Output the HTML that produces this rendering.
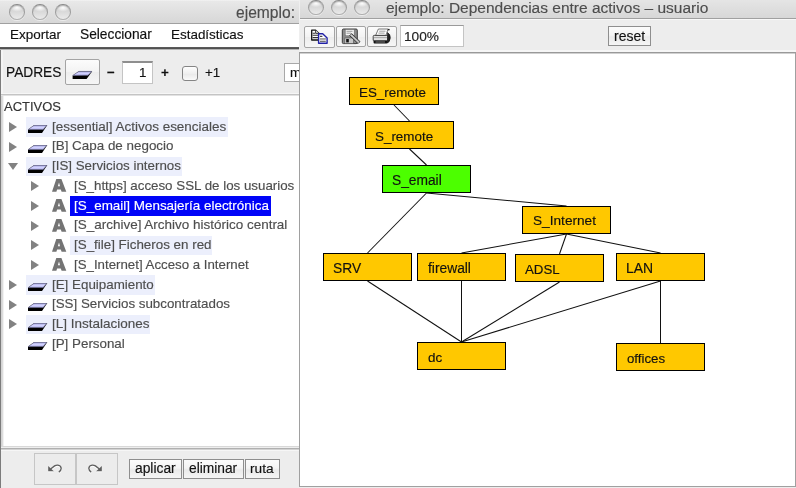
<!DOCTYPE html>
<html><head><meta charset="utf-8"><style>
*{margin:0;padding:0;box-sizing:border-box}
html,body{width:796px;height:488px;overflow:hidden;background:#fff}
body{position:relative;font-family:"Liberation Sans",sans-serif;color:#111}
.a{position:absolute}
.t{position:absolute;white-space:pre;line-height:1;will-change:transform;-webkit-text-stroke:0.15px currentColor}
.circ{position:absolute;width:15.5px;height:15.5px;border-radius:50%;border:1px solid;border-color:#8c8c8c #a0a0a0 #b0b0b0;
 background:radial-gradient(ellipse 45% 28% at 50% 20%,rgba(255,255,255,.95),rgba(255,255,255,0)),linear-gradient(#d4d4d4,#d8d8d8 45%,#eaeaea);
 box-shadow:inset 0 1px 1px rgba(0,0,0,.2),0 1px 0 rgba(255,255,255,.5)}
.btn{position:absolute;border:1px solid #a4a4a4;border-radius:2px;background:linear-gradient(#fcfcfc,#f3f3f3 50%,#ededed 51%,#f6f6f6)}
.pb{position:absolute;border:1px solid #8e8e8e;background:linear-gradient(#fbfbfb,#f4f4f4 45%,#eaeaea 55%,#f5f5f5)}
.tri{position:absolute;width:0;height:0;border-top:5px solid transparent;border-bottom:5px solid transparent;border-left:8.5px solid #828282}
.trid{position:absolute;width:0;height:0;border-left:5px solid transparent;border-right:5px solid transparent;border-top:7.6px solid #828282}
</style></head><body>
<div class="a" style="left:0;top:0;width:299px;height:23px;background:linear-gradient(#f3f3f3 0,#e8e8e8 1.5px,#d7d7d7)"></div>
<div class="a" style="left:0;top:23px;width:299px;height:1px;background:#a0a0a0"></div>
<div class="circ" style="left:9px;top:4px"></div>
<div class="circ" style="left:32px;top:4px"></div>
<div class="circ" style="left:55px;top:4px"></div>
<div class="t" style="left:235.7px;top:4.4px;font-size:15.62px;color:#4d4d4d;margin-top:1px">ejemplo:</div>
<div class="a" style="left:0;top:24px;width:299px;height:23px;background:#fff"></div>
<div class="a" style="left:0;top:47px;width:299px;height:1px;background:#5a5a5a"></div>
<div class="a" style="left:0;top:48px;width:299px;height:1px;background:#505050"></div>
<div class="a" style="left:0;top:49px;width:299px;height:1px;background:#b4b4b4"></div>
<div class="a" style="left:1px;top:50px;width:298px;height:1px;background:#f8f8f8"></div>
<div class="t" style="left:9.6px;top:28.0px;font-size:13.48px;color:#111;">Exportar</div>
<div class="t" style="left:79.7px;top:28.0px;font-size:13.76px;color:#111;">Seleccionar</div>
<div class="t" style="left:170.7px;top:28.0px;font-size:13.44px;color:#111;">Estadísticas</div>
<div class="a" style="left:0;top:50px;width:299px;height:438px;background:#ededed"></div>
<div class="a" style="left:0;top:50px;width:1px;height:438px;background:#7c7c7c"></div>
<div class="a" style="left:1px;top:50px;width:2px;height:43px;background:#f4f4f4"></div>
<div class="t" style="left:6.0px;top:65.7px;font-size:13.72px;color:#111;">PADRES</div>
<div class="btn" style="left:65px;top:59px;width:35px;height:26px"></div>
<svg class="a" style="left:72px;top:70px" width="22" height="10" viewBox="0 0 22 10">
 <polygon points="6.8,1.2 20.2,1.2 14.6,9 0.6,9 0.6,5.4" fill="#000"/>
 <polygon points="6.8,1.4 19.7,1.4 16,5.3 0.8,5.4" fill="url(#lav)" stroke="#7c7ca0" stroke-width="0.5"/></svg>
<div class="t" style="left:107.2px;top:65.5px;font-size:13.4px;color:#111;font-weight:bold">−</div>
<div class="a" style="left:122px;top:61px;width:31px;height:23px;background:#fff;border:1px solid #c4c4c4;border-top:2px solid #8e8e8e"></div>
<div class="t" style="left:139.0px;top:65.5px;font-size:13.4px;color:#111;">1</div>
<div class="t" style="left:160.7px;top:65.5px;font-size:13.4px;color:#111;font-weight:bold">+</div>
<div class="a" style="left:182px;top:66px;width:16px;height:15px;border:1px solid #858585;border-radius:3px;background:linear-gradient(#fefefe,#efefef 50%,#e9e9e9 52%,#fafafa)"></div>
<div class="t" style="left:205.0px;top:66.3px;font-size:13.4px;color:#111;">+1</div>
<div class="a" style="left:284px;top:63px;width:30px;height:19px;background:#fff;border:1px solid #a8a8a8"></div>
<div class="t" style="left:290.2px;top:65.5px;font-size:13.4px;color:#111;">m</div>
<div class="a" style="left:1px;top:93px;width:298px;height:1px;background:#f6f6f6"></div>
<div class="a" style="left:1px;top:94px;width:298px;height:1px;background:#c4c4c4"></div>
<div class="a" style="left:1px;top:95px;width:298px;height:1px;background:#e2e2e2"></div>
<div class="a" style="left:1px;top:96px;width:1px;height:350px;background:#d4d4d4"></div>
<div class="a" style="left:2px;top:96px;width:1px;height:350px;background:#dcdcdc"></div>
<div class="a" style="left:3px;top:96px;width:1px;height:350px;background:#f2f2f2"></div>
<div class="a" style="left:4px;top:96px;width:295px;height:350px;background:#fff"></div>
<div class="a" style="left:1px;top:446px;width:298px;height:1px;background:#d8d8d8"></div>
<div class="a" style="left:1px;top:447px;width:298px;height:1px;background:#eeeeee"></div>
<div class="a" style="left:1px;top:448px;width:298px;height:1px;background:#b0b0b0"></div>
<div class="a" style="left:1px;top:449px;width:298px;height:1px;background:#d2d2d2"></div>
<div class="a" style="left:1px;top:450px;width:298px;height:1px;background:#f6f6f6"></div>
<div class="t" style="left:4.4px;top:101.1px;font-size:12.97px;color:#333;">ACTIVOS</div>
<svg width="0" height="0" style="position:absolute"><defs><linearGradient id="lav" x1="0" y1="0" x2="0" y2="1"><stop offset="0" stop-color="#a4a4dc"/><stop offset="0.5" stop-color="#d2d2ff"/><stop offset="1" stop-color="#b0b0ec"/></linearGradient></defs></svg>
<div class="a" style="left:26.2px;top:117.00px;width:201.40px;height:19.75px;background:#eceffc"></div>
<div class="tri" style="left:9px;top:121.90px"></div>
<svg class="a" style="left:27.8px;top:125.20px" width="21" height="10" viewBox="0 0 21 10"><polygon points="6.2,0 19.3,0 14,7.9 0,7.9 0,4.6" fill="#000"/><polygon points="6.2,0.3 18.8,0.3 15.2,4.5 0.2,4.6" fill="url(#lav)" stroke="#7a7a9c" stroke-width="0.5"/></svg>
<div class="t" style="left:52.3px;top:119.7px;font-size:13.46px;color:#4e4e4e;">[essential] Activos esenciales</div>
<div class="tri" style="left:9px;top:141.65px"></div>
<svg class="a" style="left:27.8px;top:144.95px" width="21" height="10" viewBox="0 0 21 10"><polygon points="6.2,0 19.3,0 14,7.9 0,7.9 0,4.6" fill="#000"/><polygon points="6.2,0.3 18.8,0.3 15.2,4.5 0.2,4.6" fill="url(#lav)" stroke="#7a7a9c" stroke-width="0.5"/></svg>
<div class="t" style="left:52.3px;top:139.45px;font-size:13.42px;color:#4e4e4e;">[B] Capa de negocio</div>
<div class="a" style="left:26.2px;top:156.50px;width:155.50px;height:19.75px;background:#eceffc"></div>
<div class="trid" style="left:7.7px;top:162.60px"></div>
<svg class="a" style="left:27.8px;top:164.70px" width="21" height="10" viewBox="0 0 21 10"><polygon points="6.2,0 19.3,0 14,7.9 0,7.9 0,4.6" fill="#000"/><polygon points="6.2,0.3 18.8,0.3 15.2,4.5 0.2,4.6" fill="url(#lav)" stroke="#7a7a9c" stroke-width="0.5"/></svg>
<div class="t" style="left:52.3px;top:159.2px;font-size:13.33px;color:#4e4e4e;">[IS] Servicios internos</div>
<div class="tri" style="left:30.6px;top:181.15px"></div>
<svg class="a" style="left:51.5px;top:179.25px" width="15" height="14" viewBox="0 0 15 14"><path fill-rule="evenodd" fill="#747474" d="M4.3,0.1 H9.4 L14.3,12.8 H9.6 L8.8,10.4 H5.1 L4.4,12.8 H0 Z M5.9,7.3 H8 L7,3.6 Z"/></svg>
<div class="t" style="left:74.4px;top:178.95px;font-size:13.34px;color:#4e4e4e;">[S_https] acceso SSL de los usuarios</div>
<div class="a" style="left:70.2px;top:196.00px;width:200.60px;height:19.75px;background:#0004f8"></div>
<div class="tri" style="left:30.6px;top:200.90px"></div>
<svg class="a" style="left:51.5px;top:199.00px" width="15" height="14" viewBox="0 0 15 14"><path fill-rule="evenodd" fill="#747474" d="M4.3,0.1 H9.4 L14.3,12.8 H9.6 L8.8,10.4 H5.1 L4.4,12.8 H0 Z M5.9,7.3 H8 L7,3.6 Z"/></svg>
<div class="t" style="left:74.4px;top:198.7px;font-size:13.44px;color:#fff;">[S_email] Mensajería electrónica</div>
<div class="tri" style="left:30.6px;top:220.65px"></div>
<svg class="a" style="left:51.5px;top:218.75px" width="15" height="14" viewBox="0 0 15 14"><path fill-rule="evenodd" fill="#747474" d="M4.3,0.1 H9.4 L14.3,12.8 H9.6 L8.8,10.4 H5.1 L4.4,12.8 H0 Z M5.9,7.3 H8 L7,3.6 Z"/></svg>
<div class="t" style="left:74.4px;top:218.45px;font-size:13.48px;color:#4e4e4e;">[S_archive] Archivo histórico central</div>
<div class="a" style="left:70.2px;top:235.50px;width:142.10px;height:19.75px;background:#eceffc"></div>
<div class="tri" style="left:30.6px;top:240.40px"></div>
<svg class="a" style="left:51.5px;top:238.50px" width="15" height="14" viewBox="0 0 15 14"><path fill-rule="evenodd" fill="#747474" d="M4.3,0.1 H9.4 L14.3,12.8 H9.6 L8.8,10.4 H5.1 L4.4,12.8 H0 Z M5.9,7.3 H8 L7,3.6 Z"/></svg>
<div class="t" style="left:74.4px;top:238.2px;font-size:13.38px;color:#4e4e4e;">[S_file] Ficheros en red</div>
<div class="tri" style="left:30.6px;top:260.15px"></div>
<svg class="a" style="left:51.5px;top:258.25px" width="15" height="14" viewBox="0 0 15 14"><path fill-rule="evenodd" fill="#747474" d="M4.3,0.1 H9.4 L14.3,12.8 H9.6 L8.8,10.4 H5.1 L4.4,12.8 H0 Z M5.9,7.3 H8 L7,3.6 Z"/></svg>
<div class="t" style="left:74.4px;top:257.95px;font-size:13.28px;color:#4e4e4e;">[S_Internet] Acceso a Internet</div>
<div class="a" style="left:26.2px;top:275.00px;width:128.60px;height:19.75px;background:#eceffc"></div>
<div class="tri" style="left:9px;top:279.90px"></div>
<svg class="a" style="left:27.8px;top:283.20px" width="21" height="10" viewBox="0 0 21 10"><polygon points="6.2,0 19.3,0 14,7.9 0,7.9 0,4.6" fill="#000"/><polygon points="6.2,0.3 18.8,0.3 15.2,4.5 0.2,4.6" fill="url(#lav)" stroke="#7a7a9c" stroke-width="0.5"/></svg>
<div class="t" style="left:52.3px;top:277.7px;font-size:13.37px;color:#4e4e4e;">[E] Equipamiento</div>
<div class="tri" style="left:9px;top:299.65px"></div>
<svg class="a" style="left:27.8px;top:302.95px" width="21" height="10" viewBox="0 0 21 10"><polygon points="6.2,0 19.3,0 14,7.9 0,7.9 0,4.6" fill="#000"/><polygon points="6.2,0.3 18.8,0.3 15.2,4.5 0.2,4.6" fill="url(#lav)" stroke="#7a7a9c" stroke-width="0.5"/></svg>
<div class="t" style="left:52.3px;top:297.45px;font-size:13.35px;color:#4e4e4e;">[SS] Servicios subcontratados</div>
<div class="a" style="left:26.2px;top:314.50px;width:123.70px;height:19.75px;background:#eceffc"></div>
<div class="tri" style="left:9px;top:319.40px"></div>
<svg class="a" style="left:27.8px;top:322.70px" width="21" height="10" viewBox="0 0 21 10"><polygon points="6.2,0 19.3,0 14,7.9 0,7.9 0,4.6" fill="#000"/><polygon points="6.2,0.3 18.8,0.3 15.2,4.5 0.2,4.6" fill="url(#lav)" stroke="#7a7a9c" stroke-width="0.5"/></svg>
<div class="t" style="left:52.3px;top:317.2px;font-size:13.5px;color:#4e4e4e;">[L] Instalaciones</div>
<svg class="a" style="left:27.8px;top:342.45px" width="21" height="10" viewBox="0 0 21 10"><polygon points="6.2,0 19.3,0 14,7.9 0,7.9 0,4.6" fill="#000"/><polygon points="6.2,0.3 18.8,0.3 15.2,4.5 0.2,4.6" fill="url(#lav)" stroke="#7a7a9c" stroke-width="0.5"/></svg>
<div class="t" style="left:52.3px;top:336.95px;font-size:13.36px;color:#4e4e4e;">[P] Personal</div>
<div class="a" style="left:34px;top:453px;width:42px;height:32px;border:1px solid #c6c6c6;background:#ececec"></div>
<div class="a" style="left:76px;top:453px;width:42px;height:32px;border:1px solid #c6c6c6;background:#ececec"></div>
<div class="pb" style="left:129px;top:459px;width:53px;height:20px"></div>
<div class="pb" style="left:183px;top:459px;width:61px;height:20px"></div>
<div class="pb" style="left:245px;top:459px;width:35px;height:20px"></div>
<div class="t" style="left:135.2px;top:462.1px;font-size:13.82px;color:#111;">aplicar</div>
<div class="t" style="left:189.0px;top:462.2px;font-size:13.76px;color:#111;">eliminar</div>
<div class="t" style="left:249.8px;top:462.2px;font-size:13.7px;color:#111;">ruta</div>
<svg class="a" style="left:47px;top:464px;filter:drop-shadow(0 1px 0 #fff)" width="16" height="10" viewBox="0 0 16 10"><g fill="#5e5e5e" stroke="#5e5e5e"><polygon points="1.2,2.1 1.2,7.3 6.8,7.3" stroke="none"/><path d="M3.6,5 L7.6,1.9 Q9,1 10.8,1.1 Q14.1,1.5 14.2,4.4 Q14.1,6.7 11.8,8.1" fill="none" stroke-width="1.3"/></g></svg>
<svg class="a" style="left:87px;top:464px;filter:drop-shadow(0 1px 0 #fff)" width="16" height="10" viewBox="0 0 16 10"><g transform="translate(16,0) scale(-1,1)"><g fill="#5e5e5e" stroke="#5e5e5e"><polygon points="1.2,2.1 1.2,7.3 6.8,7.3" stroke="none"/><path d="M3.6,5 L7.6,1.9 Q9,1 10.8,1.1 Q14.1,1.5 14.2,4.4 Q14.1,6.7 11.8,8.1" fill="none" stroke-width="1.3"/></g></g></svg>
<div class="a" style="left:299px;top:0;width:497px;height:488px;background:#ededed"></div>
<div class="a" style="left:299px;top:0;width:497px;height:18px;background:linear-gradient(#e5e5e5,#d7d7d7)"></div>
<div class="a" style="left:299px;top:18px;width:497px;height:1px;background:#a0a0a0"></div>
<div class="a" style="left:299px;top:19px;width:497px;height:1px;background:#f8f8f8"></div>
<div class="a" style="left:299px;top:0;width:1px;height:52px;background:#efefef"></div>
<div class="circ" style="left:308px;top:-0.5px"></div>
<div class="circ" style="left:331px;top:-0.5px"></div>
<div class="circ" style="left:354px;top:-0.5px"></div>
<div class="t" style="left:385.5px;top:-0.1px;font-size:15.5px;color:#4d4d4d;">ejemplo: Dependencias entre activos – usuario</div>
<div class="btn" style="left:304px;top:26px;width:31px;height:22px"></div>
<div class="btn" style="left:336px;top:26px;width:30px;height:21px"></div>
<div class="btn" style="left:367px;top:26px;width:30px;height:21px"></div>
<svg class="a" style="left:310px;top:29px" width="20" height="16" viewBox="0 0 20 16">
<path d="M1.7,1.1 H5.6 L9,4.4 V11 H1.7 Z" fill="#fff" stroke="#111" stroke-width="1.3" stroke-linejoin="round"/>
<path d="M5.6,1.1 V4.4 H9" fill="#ddd" stroke="#111" stroke-width="0.8"/>
<path d="M2.6,4.3 H5 M2.6,6.2 H8 M2.6,8.6 H8" stroke="#333" stroke-width="1.1"/>
<path d="M8.6,4.7 H12.7 L17.1,9 V14.3 H8.6 Z" fill="#fff" stroke="#2222a6" stroke-width="1.4" stroke-linejoin="round"/>
<path d="M10,7.4 H12.4 M10,9.9 H15.8 M10,12.3 H15.8" stroke="#444" stroke-width="1.1"/>
<path d="M10,9.9 H15.8" stroke="#bbb" stroke-width="1.1"/>
</svg>
<svg class="a" style="left:341px;top:28px" width="20" height="17" viewBox="0 0 20 17">
<rect x="1.3" y="1" width="15" height="14.6" rx="1.2" fill="#8c8c8c" stroke="#3c3c3c" stroke-width="1"/>
<rect x="4.2" y="1.5" width="9" height="6.3" fill="#f4f4f4" stroke="#666" stroke-width="0.6"/>
<path d="M5.5,3.3 H11.5 M5.5,5.2 H10" stroke="#777" stroke-width="0.7"/>
<rect x="3.8" y="10" width="8.5" height="5.4" fill="#c8c8c8" stroke="#555" stroke-width="0.6"/>
<rect x="5.2" y="11" width="2.6" height="3.4" fill="#111"/>
<path d="M8.6,7.6 L10.6,5.6 L19,13.6 L17,15.6 Z" fill="#a8a8a8" stroke="#333" stroke-width="0.9"/>
<path d="M9.6,6.6 L18,14.6" stroke="#e8e8e8" stroke-width="0.7"/>
</svg>
<svg class="a" style="left:372px;top:28px" width="20" height="17" viewBox="0 0 20 17">
<path d="M3.6,7.4 L6.4,1 H16 L14,7.4 Z" fill="#fff" stroke="#555" stroke-width="0.8"/>
<path d="M7.2,3.2 H13.5 M6.4,5.1 H12.6" stroke="#777" stroke-width="0.7"/>
<rect x="1.2" y="7.4" width="15" height="5.6" rx="1" fill="#e2e2e2" stroke="#333" stroke-width="0.9"/>
<path d="M2,9.6 H15.5" stroke="#999" stroke-width="0.8"/>
<rect x="1.6" y="12.6" width="13.8" height="3" rx="0.8" fill="#111"/>
<path d="M3.5,14 H13" stroke="#aaa" stroke-width="0.7"/>
<path d="M15.2,4.5 Q18.6,6 18.2,10 Q17.8,14.5 15,15" fill="#222" stroke="#111" stroke-width="0.8"/>
<circle cx="16.8" cy="1.6" r="0.9" fill="#222"/>
</svg>
<div class="a" style="left:400px;top:25px;width:64px;height:22px;background:#fff;border:1px solid #c4c4c4;border-top:1px solid #9a9a9a"></div>
<div class="t" style="left:404.3px;top:29.7px;font-size:13.7px;color:#222;">100%</div>
<div class="pb" style="left:608px;top:26px;width:43px;height:20px"></div>
<div class="t" style="left:613.6px;top:29.6px;font-size:13.97px;color:#111;">reset</div>
<div class="a" style="left:300px;top:50px;width:496px;height:2px;background:#f6f6f6"></div>
<div class="a" style="left:299px;top:52px;width:497px;height:435px;background:#fff;border:1px solid #a0a0a0;border-top-color:#999"></div>
<div class="a" style="left:300px;top:53px;width:495px;height:1px;background:#d0d0d0"></div>
<svg class="a" style="left:0;top:0" width="796" height="488">
<line x1="394.0" y1="105" x2="409.5" y2="121" stroke="#111" stroke-width="1.05"/>
<line x1="409.5" y1="149" x2="426.5" y2="165" stroke="#111" stroke-width="1.05"/>
<line x1="426.5" y1="193" x2="367.5" y2="253" stroke="#111" stroke-width="1.05"/>
<line x1="426.5" y1="193" x2="566.5" y2="206" stroke="#111" stroke-width="1.05"/>
<line x1="566.5" y1="234" x2="461.5" y2="253" stroke="#111" stroke-width="1.05"/>
<line x1="566.5" y1="234" x2="559.5" y2="254" stroke="#111" stroke-width="1.05"/>
<line x1="566.5" y1="234" x2="660.5" y2="253" stroke="#111" stroke-width="1.05"/>
<line x1="367.5" y1="281" x2="461.5" y2="342" stroke="#111" stroke-width="1.05"/>
<line x1="461.5" y1="281" x2="461.5" y2="342" stroke="#111" stroke-width="1.05"/>
<line x1="559.5" y1="282" x2="461.5" y2="342" stroke="#111" stroke-width="1.05"/>
<line x1="660.5" y1="281" x2="461.5" y2="342" stroke="#111" stroke-width="1.05"/>
<line x1="660.5" y1="281" x2="660.5" y2="343" stroke="#111" stroke-width="1.05"/>
<rect x="349.5" y="77.5" width="89" height="27" fill="#ffc800" stroke="#000" stroke-width="1"/>
<rect x="365.5" y="121.5" width="88" height="27" fill="#ffc800" stroke="#000" stroke-width="1"/>
<rect x="382.5" y="165.5" width="88" height="27" fill="#4cff00" stroke="#000" stroke-width="1"/>
<rect x="522.5" y="206.5" width="88" height="27" fill="#ffc800" stroke="#000" stroke-width="1"/>
<rect x="323.5" y="253.5" width="88" height="27" fill="#ffc800" stroke="#000" stroke-width="1"/>
<rect x="417.5" y="253.5" width="88" height="27" fill="#ffc800" stroke="#000" stroke-width="1"/>
<rect x="515.5" y="254.5" width="88" height="27" fill="#ffc800" stroke="#000" stroke-width="1"/>
<rect x="616.5" y="253.5" width="88" height="27" fill="#ffc800" stroke="#000" stroke-width="1"/>
<rect x="417.5" y="342.5" width="88" height="27" fill="#ffc800" stroke="#000" stroke-width="1"/>
<rect x="616.5" y="343.5" width="88" height="27" fill="#ffc800" stroke="#000" stroke-width="1"/>
</svg>
<div class="t" style="left:359.0px;top:86.3px;font-size:13.4px;color:#111;">ES_remote</div>
<div class="t" style="left:375.1px;top:129.7px;font-size:13.42px;color:#111;">S_remote</div>
<div class="t" style="left:391.7px;top:173.5px;font-size:13.77px;color:#111;">S_email</div>
<div class="t" style="left:532.5px;top:214.2px;font-size:13.66px;color:#111;">S_Internet</div>
<div class="t" style="left:333.4px;top:261.6px;font-size:13.8px;color:#111;">SRV</div>
<div class="t" style="left:427.9px;top:261.6px;font-size:13.8px;color:#111;">firewall</div>
<div class="t" style="left:525.2px;top:262.5px;font-size:13.3px;color:#111;">ADSL</div>
<div class="t" style="left:626.1px;top:261.6px;font-size:13.94px;color:#111;">LAN</div>
<div class="t" style="left:427.8px;top:350.8px;font-size:13.43px;color:#111;">dc</div>
<div class="t" style="left:626.8px;top:351.9px;font-size:13.25px;color:#111;">offices</div>
</body></html>
